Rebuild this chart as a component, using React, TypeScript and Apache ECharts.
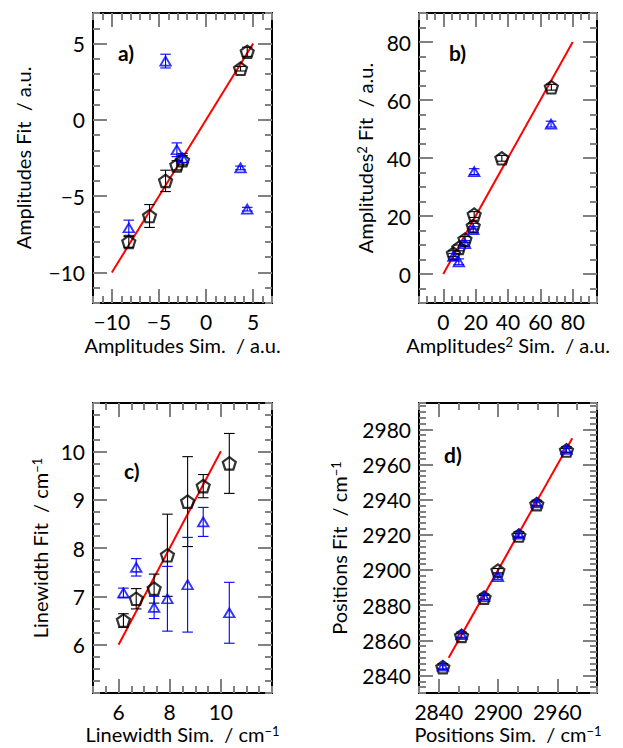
import React, { useEffect, useRef } from "react";
import * as echarts from "echarts";

// ---------- Panel a: Amplitudes ----------
const aSimBlack = [-8.2, -6.0, -4.3, -3.1, -2.5, 3.66, 4.37];
const aFitBlack = [-8.0, -6.3, -4.0, -2.98, -2.65, 3.35, 4.46];
const aErrBlack = [0.35, 0.75, 0.7, 0.3, 0.3, 0.15, 0.3];
const aSimBlue = [-8.2, -4.3, -3.1, -2.5, 3.66, 4.37];
const aFitBlue = [-7.07, 3.85, -1.96, -2.5, -3.15, -5.85];
const aErrBlue = [0.5, 0.45, 0.45, 0.3, 0.12, 0.12];
const aLine = [-10, 5];
const aTicks = [-10, -5, 0, 5];

// ---------- Panel b: Amplitudes^2 ----------
const bSimBlack = [66.8, 36.2, 18.5, 19.1, 13.4, 9.6, 6.25];
const bFitBlack = [64.4, 39.9, 16.5, 20.5, 11.9, 9.0, 7.0];
const bErrBlack = [1.0, 1.0, 1.0, 1.0, 1.0, 1.0, 1.0];
const bSimBlue = [66.6, 19.1, 18.5, 13.4, 9.6, 6.25];
const bFitBlue = [51.7, 35.3, 15.3, 10.5, 4.2, 6.1];
const bErrBlue = [1.0, 1.0, 1.0, 1.0, 1.0, 1.0];
const bLine = [0, 80];
const bTicks = [0, 20, 40, 60, 80];

// ---------- Panel c: Linewidth ----------
const cSim = [6.19, 6.69, 7.39, 7.91, 8.7, 9.31, 10.33];
const cFitBlack = [6.5, 6.95, 7.16, 7.85, 8.96, 9.28, 9.75];
const cErrBlack = [0.14, 0.21, 0.3, 0.85, 0.93, 0.24, 0.62];
const cFitBlue = [7.07, 7.6, 6.77, 6.95, 7.24, 8.54, 6.66];
const cErrBlue = [0.1, 0.18, 0.23, 0.67, 0.98, 0.3, 0.63];
const cLine = [6, 10];
const cXTicks = [6, 8, 10];
const cYTicks = [6, 7, 8, 9, 10];

// ---------- Panel d: Positions ----------
const dSim = [2844.1, 2863, 2885.8, 2899.8, 2921, 2939.1, 2969.1];
const dFitBlack = [2844.7, 2862.5, 2884.3, 2899.6, 2919.6, 2937.5, 2968];
const dErrBlack = [1.2, 1.2, 1.2, 1.2, 1.2, 1.2, 1.2];
const dFitBlue = [2845.2, 2863.2, 2884.8, 2896.2, 2920.4, 2938.2, 2968.6];
const dErrBlue = [1.5, 1.5, 1.5, 1.5, 1.5, 1.5, 1.5];
const dLine = [2850, 2975];
const dXTicks = [2840, 2900, 2960];
const dYTicks = [2840, 2860, 2880, 2900, 2920, 2940, 2960, 2980];

const FONT = "Lato, 'DejaVu Sans', sans-serif";
const TICK_COLOR = "#808080";
const PENTAGON =
  "path://M50,0 L97.55,34.55 L79.39,90.45 L20.61,90.45 L2.45,34.55 Z";

const fmt = (v: number) => String(v).replace("-", "\u2212");

const richStyles = {
  t: { fontSize: 20, fontFamily: FONT, color: "#000" },
  s: { fontSize: 13, fontFamily: FONT, color: "#000", verticalAlign: "top", lineHeight: 14 },
};

function makeAxes(
  dim: "x" | "y",
  gi: number,
  range: number[],
  major: number[],
  minorStep: number,
  name: string,
  nameGap: number
) {
  const p1 = dim === "x" ? "bottom" : "left";
  const p2 = dim === "x" ? "top" : "right";
  const base = {
    type: "value",
    gridIndex: gi,
    min: range[0],
    max: range[1],
    axisLine: { show: false, onZero: false },
    splitLine: { show: false },
  };
  const majorTick = {
    show: true,
    inside: true,
    length: 14,
    customValues: major,
    lineStyle: { color: TICK_COLOR, width: 2 },
  };
  const minorTick = {
    show: true,
    inside: true,
    length: 7,
    lineStyle: { color: TICK_COLOR, width: 2 },
  };
  return [
    {
      ...base,
      position: p1,
      axisTick: majorTick,
      axisLabel: {
        show: true,
        customValues: major,
        formatter: fmt,
        margin: 8,
        fontSize: 21,
        color: "#000",
        fontFamily: FONT,
      },
      name,
      nameLocation: "middle",
      nameGap,
      nameTextStyle: { fontSize: 20, fontFamily: FONT, color: "#000", rich: richStyles },
    },
    { ...base, position: p1, interval: minorStep, axisTick: minorTick, axisLabel: { show: false } },
    { ...base, position: p2, axisTick: majorTick, axisLabel: { show: false } },
    { ...base, position: p2, interval: minorStep, axisTick: minorTick, axisLabel: { show: false } },
  ];
}

function errSeries(xs: number[], ys: number[], errs: number[], color: string, ai: number) {
  return {
    type: "custom",
    xAxisIndex: ai,
    yAxisIndex: ai,
    silent: true,
    z: 3,
    data: xs.map((x, i) => [x, ys[i] - errs[i], ys[i] + errs[i]]),
    encode: { x: 0, y: [1, 2] },
    renderItem: (params: any, api: any) => {
      const x = api.value(0);
      const lo = api.coord([x, api.value(1)]);
      const hi = api.coord([x, api.value(2)]);
      const cw = 5.3;
      const st = { stroke: color, lineWidth: 1.1 };
      return {
        type: "group",
        children: [
          { type: "line", shape: { x1: lo[0], y1: lo[1], x2: hi[0], y2: hi[1] }, style: st },
          { type: "line", shape: { x1: lo[0] - cw, y1: lo[1], x2: lo[0] + cw, y2: lo[1] }, style: st },
          { type: "line", shape: { x1: hi[0] - cw, y1: hi[1], x2: hi[0] + cw, y2: hi[1] }, style: st },
        ],
      };
    },
  };
}

function lineSeries(ends: number[], ai: number) {
  return {
    type: "line",
    xAxisIndex: ai,
    yAxisIndex: ai,
    data: ends.map((v) => [v, v]),
    showSymbol: false,
    symbol: "none",
    lineStyle: { color: "#ff0000", width: 2 },
    z: 2,
    silent: true,
  };
}

function blackSeries(xs: number[], ys: number[], ai: number) {
  return {
    type: "scatter",
    xAxisIndex: ai,
    yAxisIndex: ai,
    data: xs.map((x, i) => [x, ys[i]]),
    symbol: PENTAGON,
    symbolSize: [13, 12.5],
    itemStyle: { color: "transparent", borderColor: "#000", borderWidth: 2.2 },
    z: 4,
    silent: true,
  };
}

function blueSeries(xs: number[], ys: number[], ai: number) {
  return {
    type: "scatter",
    xAxisIndex: ai,
    yAxisIndex: ai,
    data: xs.map((x, i) => [x, ys[i]]),
    symbol: "triangle",
    symbolSize: [10.5, 9],
    itemStyle: { color: "transparent", borderColor: "#0000ff", borderWidth: 1.8 },
    z: 5,
    silent: true,
  };
}

export default function App() {
  const ref = useRef<HTMLDivElement>(null);
  useEffect(() => {
    if (!ref.current) return;
    const chart = echarts.init(ref.current, undefined, { renderer: "svg" });
    const grids = [
      { left: 93, top: 13, width: 179, height: 290 },
      { left: 419, top: 13, width: 178, height: 290 },
      { left: 93, top: 403, width: 179, height: 290 },
      { left: 419, top: 403, width: 178, height: 290 },
    ].map((g) => ({
      ...g,
      show: true,
      borderColor: "#000",
      borderWidth: 2,
      backgroundColor: "transparent",
      containLabel: false,
      outerBoundsMode: "none",
    }));

    const xAxis = [
      ...makeAxes("x", 0, [-12, 7], aTicks, 1, "{t|Amplitudes Sim.  / a.u.}", 32),
      ...makeAxes("x", 1, [-15, 95], bTicks, 5, "{t|Amplitudes}{s|2}{t| Sim.  / a.u.}", 32),
      ...makeAxes("x", 2, [5, 12], cXTicks, 0.5, "{t|Linewidth Sim.  / cm}{s|\u22121}", 31),
      ...makeAxes("x", 3, [2820, 3000], dXTicks, 20, "{t|Positions Sim.  / cm}{s|\u22121}", 31),
    ];
    const yAxis = [
      ...makeAxes("y", 0, [-12, 7], aTicks, 1, "{t|Amplitudes Fit  / a.u.}", 60),
      ...makeAxes("y", 1, [-10, 90], bTicks, 5, "{t|Amplitudes}{s|2}{t| Fit  / a.u.}", 44),
      ...makeAxes("y", 2, [5, 11], cYTicks, 0.25, "{t|Linewidth Fit  / cm}{s|\u22121}", 43),
      ...makeAxes("y", 3, [2830, 2995], dYTicks, 10 / 3, "{t|Positions Fit  / cm}{s|\u22121}", 70),
    ];

    const series = [
      lineSeries(aLine, 0),
      errSeries(aSimBlack, aFitBlack, aErrBlack, "#000", 0),
      errSeries(aSimBlue, aFitBlue, aErrBlue, "#0000ff", 0),
      blackSeries(aSimBlack, aFitBlack, 0),
      blueSeries(aSimBlue, aFitBlue, 0),

      lineSeries(bLine, 4),
      errSeries(bSimBlack, bFitBlack, bErrBlack, "#000", 4),
      errSeries(bSimBlue, bFitBlue, bErrBlue, "#0000ff", 4),
      blackSeries(bSimBlack, bFitBlack, 4),
      blueSeries(bSimBlue, bFitBlue, 4),

      lineSeries(cLine, 8),
      errSeries(cSim, cFitBlack, cErrBlack, "#000", 8),
      errSeries(cSim, cFitBlue, cErrBlue, "#0000ff", 8),
      blackSeries(cSim, cFitBlack, 8),
      blueSeries(cSim, cFitBlue, 8),

      lineSeries(dLine, 12),
      errSeries(dSim, dFitBlack, dErrBlack, "#000", 12),
      errSeries(dSim, dFitBlue, dErrBlue, "#0000ff", 12),
      blackSeries(dSim, dFitBlack, 12),
      blueSeries(dSim, dFitBlue, 12),
    ];

    const panelLabel = (text: string, left: number, top: number) => ({
      text,
      left,
      top,
      padding: 0,
      textStyle: { fontSize: 21, fontWeight: "bold", fontFamily: FONT, color: "#000" },
    });

    chart.setOption({
      animation: false,
      backgroundColor: "#fff",
      title: [
        panelLabel("a)", 118, 42),
        panelLabel("b)", 449, 42),
        panelLabel("c)", 124, 460),
        panelLabel("d)", 444, 444),
      ],
      grid: grids,
      xAxis,
      yAxis,
      series,
    });
    return () => chart.dispose();
  }, []);
  return (
    <div
      ref={ref}
      style={{ position: "absolute", left: 0, top: 0, width: 623, height: 748, background: "#fff" }}
    />
  );
}
